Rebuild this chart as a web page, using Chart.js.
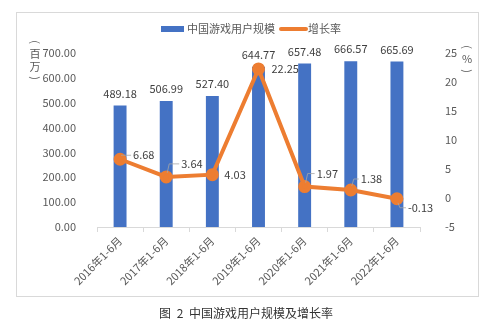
<!DOCTYPE html>
<html><head><meta charset="utf-8">
<script src="https://cdn.jsdelivr.net/npm/chart.js@4/dist/chart.umd.min.js"></script>
<style>
html,body{margin:0;padding:0;background:#fff;width:492px;height:329px;overflow:hidden}
#frame{position:absolute;left:16px;top:12px;width:461px;height:283px;border:1px solid #d9d9d9}
#wrap{position:absolute;left:0;top:0;width:492px;height:329px}
#cap{position:absolute;left:0;top:304px;width:492px;text-align:center;font:12px "Noto Sans CJK SC";color:#333;word-spacing:3px}
</style></head><body>
<div id="frame"></div>
<div id="wrap"><canvas id="c" width="492" height="329"></canvas></div>
<div id="cap">图 2 中国游戏用户规模及增长率</div>
<script>
const categories = ["2016年1-6月","2017年1-6月","2018年1-6月","2019年1-6月","2020年1-6月","2021年1-6月","2022年1-6月"];
const users = [489.18, 506.99, 527.40, 644.77, 657.48, 666.57, 665.69];
const growth = [6.68, 3.64, 4.03, 22.25, 1.97, 1.38, -0.13];
const seriesNames = ["中国游戏用户规模", "增长率"];

// label placement style (dx to label left, dy of label centre, leader line)
const growthLabelStyle = [
  {dx:13, dy:-4, leader:true},
  {dx:15, dy:-13, leader:true},
  {dx:12, dy:0, leader:false},
  {dx:13, dy:0, leader:false},
  {dx:12, dy:-13, leader:true},
  {dx:10, dy:-11, leader:true},
  {dx:11, dy:9, leader:true}
];

const BLUE = "#4472C4", ORANGE = "#ED7D31", TXT = "#595959", LBL = "#404040";
const FONT = '"Noto Sans CJK SC", "Noto Sans", sans-serif';

function bracket(ctx, ch, x, y) {
  ctx.save();
  ctx.translate(x, y);
  ctx.rotate(Math.PI / 2);
  ctx.textAlign = 'center';
  ctx.textBaseline = 'middle';
  ctx.fillText(ch, 0, 0);
  ctx.restore();
}

const deco = {
  id: 'deco',
  afterDatasetsDraw(chart) {
    const ctx = chart.ctx;
    ctx.save();
    ctx.font = '11px ' + FONT;
    ctx.fillStyle = LBL;
    ctx.textAlign = 'center';
    ctx.textBaseline = 'middle';
    const barMeta = chart.getDatasetMeta(1);
    barMeta.data.forEach((b, i) => {
      ctx.fillText(users[i].toFixed(2), b.x, b.y - 12);
    });
    const lineMeta = chart.getDatasetMeta(0);
    ctx.textAlign = 'left';
    lineMeta.data.forEach((p, i) => {
      const s = growthLabelStyle[i];
      const lx = p.x + s.dx, ly = p.y + s.dy;
      if (s.leader) {
        ctx.strokeStyle = '#a6a6a6';
        ctx.lineWidth = 0.8;
        ctx.beginPath();
        const sy = s.dy < 0 ? p.y - 4 : p.y + 4;
        const vx = p.x + Math.min(3, s.dx - 6);
        ctx.moveTo(p.x + 1, sy);
        ctx.lineTo(vx, ly);
        ctx.lineTo(lx - 2, ly);
        ctx.stroke();
      }
      ctx.fillStyle = LBL;
      ctx.fillText(growth[i].toFixed(2), lx, ly);
    });
    ctx.restore();
  },
  afterDraw(chart) {
    const ctx = chart.ctx;
    ctx.save();
    ctx.font = '11px ' + FONT;
    ctx.textBaseline = 'middle';
    ctx.textAlign = 'left';
    ctx.fillStyle = BLUE;
    ctx.fillRect(161, 26, 23, 6);
    ctx.fillStyle = TXT;
    ctx.fillText(seriesNames[0], 187, 29);
    ctx.strokeStyle = ORANGE;
    ctx.lineWidth = 4;
    ctx.lineCap = 'round';
    ctx.beginPath(); ctx.moveTo(281, 29); ctx.lineTo(306, 29); ctx.stroke();
    ctx.fillStyle = TXT;
    ctx.fillText(seriesNames[1], 308, 29);
    // axis titles (vertical)
    ctx.textAlign = 'center';
    bracket(ctx, '(', 35, 42);
    ctx.fillText('百', 35, 54);
    ctx.fillText('万', 35, 67);
    bracket(ctx, ')', 35, 78);
    bracket(ctx, '(', 467, 47);
    ctx.fillText('%', 467, 59);
    bracket(ctx, ')', 467, 71);
    ctx.restore();
  }
};

new Chart(document.getElementById('c'), {
  data: {
    labels: categories,
    datasets: [
      {
        type: 'line', label: seriesNames[1], data: growth, yAxisID: 'y1',
        borderColor: ORANGE, backgroundColor: ORANGE, borderWidth: 4,
        pointRadius: 4.5, pointBackgroundColor: ORANGE, pointBorderColor: ORANGE,
        tension: 0, order: 1
      },
      {
        type: 'bar', label: seriesNames[0], data: users, yAxisID: 'y',
        backgroundColor: BLUE, barPercentage: 0.28, categoryPercentage: 1, order: 2
      }
    ]
  },
  options: {
    responsive: false,
    animation: false,
    layout: { padding: { top: 53, left: 0, right: 0, bottom: 0 } },
    plugins: { legend: { display: false }, tooltip: { enabled: false } },
    scales: {
      x: {
        offset: true,
        grid: { display: true, drawOnChartArea: false, drawTicks: true, tickLength: 5, color: '#d9d9d9', offset: true },
        border: { display: true, color: '#d9d9d9' },
        ticks: { color: TXT, font: { size: 11, family: FONT }, minRotation: 45, maxRotation: 45, padding: 2 },
        afterFit(s) { s.height = 102; }
      },
      y: {
        position: 'left', min: 0, max: 700,
        grid: { display: false }, border: { display: false },
        ticks: { stepSize: 100, color: TXT, font: { size: 11, family: FONT }, padding: 13, callback: v => Number(v).toFixed(2) },
        afterFit(s) { s.width = 97; }
      },
      y1: {
        position: 'right', min: -5, max: 25,
        grid: { display: false }, border: { display: false },
        ticks: { stepSize: 5, color: TXT, font: { size: 11, family: FONT }, padding: 17 },
        afterFit(s) { s.width = 72; }
      }
    }
  },
  plugins: [deco]
});
</script>
</body></html>
